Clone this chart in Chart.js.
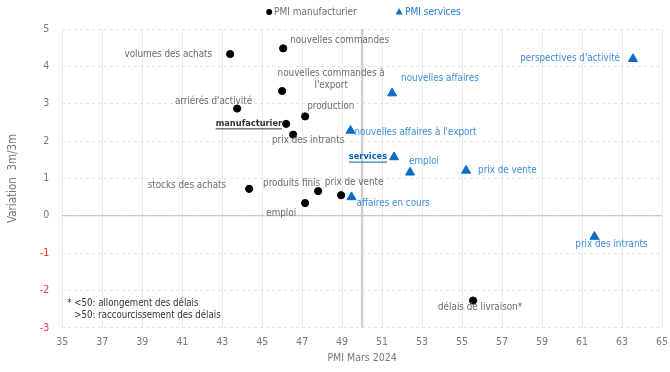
<!DOCTYPE html>
<html lang="fr">
<head>
<meta charset="utf-8">
<script src="https://cdn.jsdelivr.net/npm/chart.js@4.4.1/dist/chart.umd.min.js"></script>
<style>
  html, body { margin: 0; padding: 0; background: #fff; }
</style>
</head>
<body>
<canvas id="pmiChart" width="670" height="372"></canvas>
<script>
// PMI manufacturier : composantes (niveau du PMI en mars 2024, variation 3m/3m)
const manuNoms = ['volumes des achats', 'nouvelles commandes', "nouvelles commandes à\nl'export",
  "arriérés d'activité", 'production', 'manufacturier', 'prix des intrants',
  'stocks des achats', 'produits finis', 'emploi', 'prix de vente', 'délais de livraison*'];
const manuPMI = [43.4, 46.05, 46.0, 43.75, 47.15, 46.2, 46.55, 44.35, 47.8, 47.15, 48.95, 55.55];
const manuVar = [4.33, 4.48, 3.34, 2.87, 2.66, 2.46, 2.17, 0.72, 0.66, 0.34, 0.55, -2.27];

// PMI services
const servNoms = ["perspectives d'activité", 'nouvelles affaires', "nouvelles affaires à l'export",
  'services', 'emploi', 'prix de vente', 'affaires en cours', 'prix des intrants'];
const servPMI = [63.55, 51.5, 49.42, 51.6, 52.4, 55.2, 49.47, 61.62];
const servVar = [4.2, 3.28, 2.28, 1.57, 1.16, 1.21, 0.5, -0.56];

const xTicks = { min: 35, max: 65, pas: 2 };
const yTicks = { min: -3, max: 5, pas: 1 };

// placement des étiquettes (décalage en px par rapport au point)
const manuEtiq = [
  [-18, 0, 'right'], [7, -8, 'left'], [49, -18, 'center'], [15, -7, 'right'],
  [2, -10, 'left'], [-4, 0, 'right', true], [15, 6, 'center'], [-23, -3, 'right'],
  [2, -8, 'right'], [-9, 10, 'right'], [13, -13, 'center'], [7, 7, 'center']
];
const servEtiq = [
  [-13, 0, 'right'], [9, -15, 'left'], [4, 2, 'left'], [-7, 0, 'right', true],
  [-1, -11, 'left'], [12, 0, 'left'], [5, 6, 'left'], [17, 8, 'center']
];

const POLICE = "'DejaVu Sans Condensed', 'Liberation Sans Narrow', sans-serif";
const GRIS = '#6b6b6b';
const BLEU = '#0b6cc0';
const BLEU_TXT = '#3b8fd8';

function points(xs, ys) {
  return xs.map((x, i) => ({ x: x, y: ys[i] }));
}

const repereEtiquettes = {
  id: 'repereEtiquettes',
  beforeDatasetsDraw(chart) {
    const { ctx, chartArea, scales } = chart;
    ctx.save();
    // ligne du zéro
    const y0 = scales.y.getPixelForValue(0);
    ctx.strokeStyle = '#bdbdbd';
    ctx.lineWidth = 1.2;
    ctx.beginPath();
    ctx.moveTo(chartArea.left, y0);
    ctx.lineTo(chartArea.right, y0);
    ctx.stroke();
    // seuil des 50
    const x50 = scales.x.getPixelForValue(50);
    ctx.strokeStyle = '#cfcfcf';
    ctx.lineWidth = 2.5;
    ctx.beginPath();
    ctx.moveTo(x50, chartArea.top);
    ctx.lineTo(x50, chartArea.bottom);
    ctx.stroke();
    ctx.restore();
  },
  afterDatasetsDraw(chart) {
    const { ctx, chartArea } = chart;
    ctx.save();
    ctx.textBaseline = 'middle';
    const groupes = [
      { noms: manuNoms, pos: manuEtiq, couleur: GRIS, gras: '#333333' },
      { noms: servNoms, pos: servEtiq, couleur: BLEU_TXT, gras: '#0a5fae' }
    ];
    groupes.forEach((g, d) => {
      chart.getDatasetMeta(d).data.forEach((el, i) => {
        const [dx, dy, align, gras] = g.pos[i];
        const lignes = g.noms[i].split('\n');
        ctx.textAlign = align;
        ctx.font = gras ? 'bold 9.2px ' + POLICE : '9.8px ' + POLICE;
        ctx.fillStyle = gras ? g.gras : g.couleur;
        lignes.forEach((t, k) => {
          const tx = el.x + dx, ty = el.y + dy + k * 12;
          ctx.fillText(t, tx, ty);
          if (gras) {
            const w = ctx.measureText(t).width;
            const x0 = align === 'right' ? tx - w : (align === 'center' ? tx - w / 2 : tx);
            ctx.fillRect(x0, ty + 4.5, w, 1);
          }
        });
      });
    });

    // légende
    const cx = (chartArea.left + chartArea.right) / 2 + 2;
    const ly = 12;
    ctx.font = '10px ' + POLICE;
    ctx.textAlign = 'left';
    ctx.fillStyle = '#000';
    ctx.beginPath();
    ctx.arc(cx - 95, ly, 3, 0, Math.PI * 2);
    ctx.fill();
    ctx.fillStyle = GRIS;
    ctx.fillText('PMI manufacturier', cx - 90, ly);
    ctx.fillStyle = BLEU;
    ctx.beginPath();
    ctx.moveTo(cx + 35, ly - 4);
    ctx.lineTo(cx + 38.5, ly + 2.5);
    ctx.lineTo(cx + 31.5, ly + 2.5);
    ctx.closePath();
    ctx.fill();
    ctx.fillStyle = '#1a78cf';
    ctx.fillText('PMI services', cx + 41, ly);

    // note
    ctx.font = '9.6px ' + POLICE;
    ctx.fillStyle = '#333';
    ctx.fillText('* <50: allongement des délais', chartArea.left + 5, chartArea.bottom - 24);
    ctx.fillText('>50: raccourcissement des délais', chartArea.left + 12, chartArea.bottom - 12);
    ctx.restore();
  }
};

new Chart(document.getElementById('pmiChart').getContext('2d'), {
  type: 'scatter',
  data: {
    datasets: [{
      label: 'PMI manufacturier',
      data: points(manuPMI, manuVar),
      backgroundColor: '#000',
      borderColor: '#000',
      pointStyle: 'circle',
      pointRadius: 3.6,
      pointHoverRadius: 3.6
    }, {
      label: 'PMI services',
      data: points(servPMI, servVar),
      backgroundColor: BLEU,
      borderColor: BLEU,
      pointStyle: 'triangle',
      pointRadius: 5.2,
      pointHoverRadius: 5.2
    }]
  },
  options: {
    responsive: false,
    animation: false,
    layout: { padding: { top: 29, right: 8, bottom: 2, left: 4 } },
    plugins: {
      legend: { display: false },
      tooltip: { enabled: false }
    },
    scales: {
      x: {
        type: 'linear',
        min: xTicks.min, max: xTicks.max,
        ticks: { stepSize: xTicks.pas, color: '#777', font: { size: 10.5, family: POLICE }, padding: 0 },
        grid: { color: '#ececec', drawTicks: true, tickLength: 8, tickColor: 'rgba(0,0,0,0)' },
        border: { display: false },
        title: { display: true, text: 'PMI Mars 2024', color: '#777', font: { size: 10.5, family: POLICE }, padding: { top: 4, bottom: 5 } }
      },
      y: {
        min: yTicks.min, max: yTicks.max,
        ticks: {
          stepSize: yTicks.pas,
          color: c => c.tick.value < 0 ? '#e8393b' : '#777',
          font: { size: 10.5, family: POLICE },
          padding: 0
        },
        grid: { color: '#e4e4e4', drawTicks: true, tickLength: 13, tickColor: 'rgba(0,0,0,0)' },
        border: { display: false, dash: [3, 3] },
        title: { display: true, text: 'Variation  3m/3m', color: '#777', font: { size: 11.5, family: POLICE }, padding: { top: 2, bottom: 20 } }
      }
    }
  },
  plugins: [repereEtiquettes]
});
</script>
</body>
</html>
